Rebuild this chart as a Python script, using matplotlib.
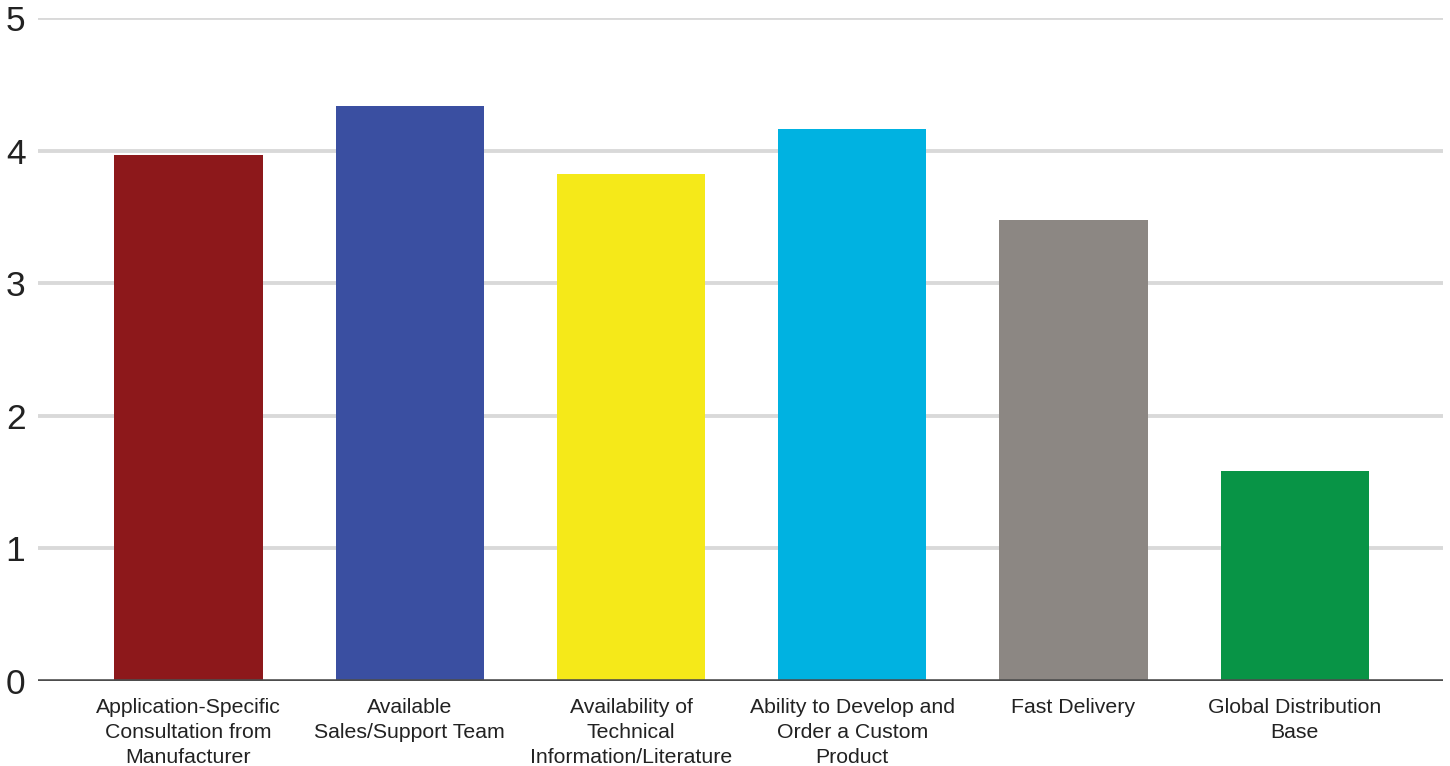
import matplotlib
matplotlib.use('Agg')
import matplotlib.pyplot as plt

# survey scores per factor
factors = ['Application-Specific\nConsultation from\nManufacturer',
           'Available\nSales/Support Team',
           'Availability of\nTechnical\nInformation/Literature',
           'Ability to Develop and\nOrder a Custom\nProduct',
           'Fast Delivery',
           'Global Distribution\nBase']
scores = [3.97, 4.34, 3.82, 4.16, 3.48, 1.58]
colors = ['#8d181b', '#3a4fa1', '#f5e919', '#00b2e1', '#8c8783', '#089446']

plt.rcParams['font.family'] = ['Liberation Sans', 'DejaVu Sans']

fig = plt.figure(figsize=(14.5, 7.66), dpi=100)
ax = fig.add_axes([38/1450, 1 - 681/766, 1405/1450, 663/766])

pos = range(len(scores))
ax.bar(pos, scores, width=0.67, color=colors, zorder=3)

# horizontal grid
for y in range(1, 6):
    ax.axhline(y, color='#d9d9d9', lw=2.8, zorder=1)
ax.axhline(0, color='#4d4d4d', lw=2.6, zorder=4)

ax.set_xlim(-0.68, 5.67)
ax.set_ylim(0, 5)
ax.set_yticks(range(6))
ax.set_yticklabels([str(i) for i in range(6)], fontsize=25.5, color='#222222')
ax.set_xticks(list(pos))
ax.set_xticklabels(factors, fontsize=15.3, color='#222222', linespacing=1.42,
                   va='top')

ax.tick_params(axis='both', length=0)
ax.tick_params(axis='y', pad=9)
ax.tick_params(axis='x', pad=12)
for s in ax.spines.values():
    s.set_visible(False)

fig.savefig('out.png', dpi=100)
